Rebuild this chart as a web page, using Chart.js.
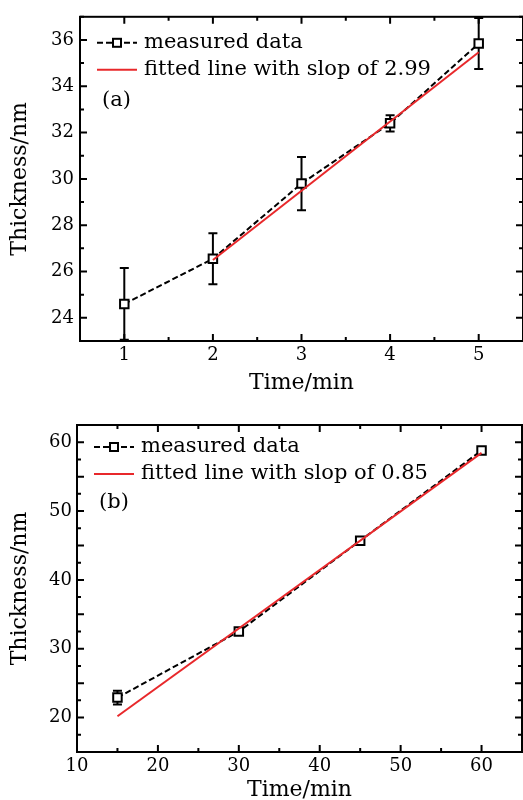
<!DOCTYPE html>
<html>
<head>
<meta charset="utf-8">
<script src="https://cdn.jsdelivr.net/npm/chart.js@4/dist/chart.umd.min.js"></script>
<style>
  html, body { margin: 0; padding: 0; background: #fff; overflow: hidden; }
  canvas { display: block; }
</style>
</head>
<body>
<canvas id="chartA" width="523" height="400"></canvas>
<canvas id="chartB" width="523" height="400"></canvas>
<script>
// panel (a)
const timeA = [1, 2, 3, 4, 5];
const thickA = [24.6, 26.55, 29.8, 32.4, 35.85];
const errA = [1.55, 1.1, 1.15, 0.35, 1.1];
const fitTimeA = [2, 5];
const fitThickA = [26.5, 35.47];
const xTicksA = [1, 2, 3, 4, 5];
const xMinorA = [0.5, 1.5, 2.5, 3.5, 4.5, 5.5];
const yTicksA = [24, 26, 28, 30, 32, 34, 36];
const yMinorA = [23, 25, 27, 29, 31, 33, 35, 37];

// panel (b)
const timeB = [15, 30, 45, 60];
const thickB = [22.9, 32.5, 45.7, 58.8];
const errB = [1.0, 0.5, 0.4, 0.4];
const fitTimeB = [15, 60];
const fitThickB = [20.2, 58.45];
const xTicksB = [10, 20, 30, 40, 50, 60];
const xMinorB = [15, 25, 35, 45, 55, 65];
const yTicksB = [15, 20, 25, 30, 35, 40, 45, 50, 55, 60];
const yMinorB = [17.5, 22.5, 27.5, 32.5, 37.5, 42.5, 47.5, 52.5, 57.5, 62.5];

const FONT = "'DejaVu Serif', serif";
const RED = "#e8282b";

// error bars drawn under the markers, clipped to the plot
const errorBars = {
  id: "errorBars",
  beforeDatasetsDraw(chart, args, opts) {
    const { ctx, chartArea, scales } = chart;
    const ds = chart.data.datasets[opts.dataset];
    ctx.save();
    ctx.beginPath();
    ctx.rect(chartArea.left, chartArea.top, chartArea.width, chartArea.height);
    ctx.clip();
    ctx.strokeStyle = "#000";
    ctx.lineWidth = 2;
    ds.data.forEach((p, i) => {
      const e = opts.errors[i];
      const x = scales.x.getPixelForValue(p.x);
      const y1 = scales.y.getPixelForValue(p.y - e);
      const y2 = scales.y.getPixelForValue(p.y + e);
      ctx.beginPath();
      ctx.moveTo(x, y1); ctx.lineTo(x, y2);
      ctx.moveTo(x - 4.5, y1); ctx.lineTo(x + 4.5, y1);
      ctx.moveTo(x - 4.5, y2); ctx.lineTo(x + 4.5, y2);
      ctx.stroke();
    });
    ctx.restore();
  }
};

// box frame with inward ticks on all four sides
const frameTicks = {
  id: "frameTicks",
  afterDraw(chart, args, opts) {
    const { ctx, chartArea: a, scales } = chart;
    ctx.save();
    ctx.strokeStyle = "#000";
    ctx.lineWidth = 2;
    ctx.strokeRect(a.left, a.top, a.width, a.height);
    const tick = (vals, len, horiz) => {
      vals.forEach((v) => {
        ctx.beginPath();
        if (horiz) {
          const x = scales.x.getPixelForValue(v);
          ctx.moveTo(x, a.bottom); ctx.lineTo(x, a.bottom - len);
          ctx.moveTo(x, a.top); ctx.lineTo(x, a.top + len);
        } else {
          const y = scales.y.getPixelForValue(v);
          ctx.moveTo(a.left, y); ctx.lineTo(a.left + len, y);
          ctx.moveTo(a.right, y); ctx.lineTo(a.right - len, y);
        }
        ctx.stroke();
      });
    };
    tick(opts.xMajor, 7, true);
    tick(opts.xMinor, 4, true);
    tick(opts.yMajor, 7, false);
    tick(opts.yMinor, 4, false);
    ctx.restore();
  }
};

// legend and panel letter inside the plot
const innerLegend = {
  id: "innerLegend",
  afterDraw(chart, args, opts) {
    const { ctx, chartArea: a } = chart;
    const x0 = a.left + 17, x1 = a.left + 57;
    const r1 = a.top + opts.row1, r2 = a.top + opts.row2;
    ctx.save();
    ctx.strokeStyle = "#000";
    ctx.lineWidth = 2;
    ctx.setLineDash([6, 3]);
    ctx.beginPath(); ctx.moveTo(x0, r1); ctx.lineTo(x1, r1); ctx.stroke();
    ctx.setLineDash([]);
    ctx.fillStyle = "#fff";
    ctx.fillRect(x0 + 16, r1 - 4, 8, 8);
    ctx.strokeRect(x0 + 16, r1 - 4, 8, 8);
    ctx.strokeStyle = RED;
    ctx.beginPath(); ctx.moveTo(x0, r2); ctx.lineTo(x1, r2); ctx.stroke();
    ctx.fillStyle = "#000";
    ctx.font = "21px " + FONT;
    ctx.textBaseline = "middle";
    ctx.fillText("measured data", a.left + 64, r1);
    ctx.fillText(opts.fitLabel, a.left + 64, r2);
    ctx.fillText(opts.panel, a.left + 22, a.top + opts.row3);
    ctx.restore();
  }
};

function makeChart(id, d) {
  new Chart(document.getElementById(id), {
    type: "line",
    data: {
      datasets: [
        {
          label: "fitted line",
          data: d.fitX.map((x, i) => ({ x, y: d.fitY[i] })),
          borderColor: RED,
          borderWidth: 2,
          pointRadius: 0,
          order: 0
        },
        {
          label: "measured data",
          data: d.x.map((x, i) => ({ x, y: d.y[i] })),
          borderColor: "#000",
          borderWidth: 2,
          borderDash: [6, 3],
          pointStyle: "rect",
          pointRadius: 6,
          pointBorderWidth: 2,
          pointBackgroundColor: "#fff",
          pointBorderColor: "#000",
          order: 1
        }
      ]
    },
    options: {
      responsive: false,
      animation: false,
      devicePixelRatio: 1,
      layout: { autoPadding: false, padding: { top: d.padTop, right: d.padRight, left: 0, bottom: 0 } },
      plugins: {
        legend: { display: false },
        tooltip: { enabled: false },
        errorBars: { dataset: 1, errors: d.err },
        frameTicks: { xMajor: d.xTicks, xMinor: d.xMinor, yMajor: d.yTicks, yMinor: d.yMinor },
        innerLegend: d.legend
      },
      scales: {
        x: {
          type: "linear",
          min: d.xMin, max: d.xMax,
          afterBuildTicks: (s) => { s.ticks = d.xTicks.map((v) => ({ value: v })); },
          afterFit: (s) => { s.height = d.xAxisH; },
          grid: { display: false, drawTicks: false, tickLength: 0 },
          border: { display: false },
          ticks: { color: "#000", padding: 4, maxRotation: 0, font: { family: FONT, size: 18 } },
          title: { display: true, text: "Time/min", color: "#000", padding: d.xTitlePad,
                   font: { family: FONT, size: 22, lineHeight: 1.0 } }
        },
        y: {
          min: d.yMin, max: d.yMax,
          afterBuildTicks: (s) => { s.ticks = d.yTicks.map((v) => ({ value: v })); },
          afterFit: (s) => { s.width = d.yAxisW; },
          grid: { display: false, drawTicks: false, tickLength: 0 },
          border: { display: false },
          ticks: { color: "#000", padding: d.yTickPad, font: { family: FONT, size: 18 },
                   callback: d.yLabel },
          title: { display: true, text: "Thickness/nm", color: "#000", padding: { top: 9, bottom: 0 },
                   font: { family: FONT, size: 22, lineHeight: 1.0 } }
        }
      }
    },
    plugins: [errorBars, frameTicks, innerLegend]
  });
}

makeChart("chartA", {
  x: timeA, y: thickA, err: errA, fitX: fitTimeA, fitY: fitThickA,
  xMin: 0.5, xMax: 5.5, yMin: 23, yMax: 37,
  xTicks: xTicksA, xMinor: xMinorA, yTicks: yTicksA, yMinor: yMinorA,
  yLabel: (v) => v,
  padTop: 14, padRight: -1, xAxisH: 59, yAxisW: 80, yTickPad: 6,
  xTitlePad: { top: 0, bottom: 6 },
  legend: { row1: 26, row2: 53, row3: 84, fitLabel: "fitted line with slop of 2.99", panel: "(a)" }
});

makeChart("chartB", {
  x: timeB, y: thickB, err: errB, fitX: fitTimeB, fitY: fitThickB,
  xMin: 10, xMax: 65, yMin: 15, yMax: 62.5,
  xTicks: xTicksB, xMinor: xMinorB, yTicks: yTicksB, yMinor: yMinorB,
  yLabel: (v) => (v % 10 === 0 ? v : ""),
  padTop: 25, padRight: 1, xAxisH: 48, yAxisW: 77, yTickPad: 5,
  xTitlePad: { top: 0, bottom: -1 },
  legend: { row1: 22, row2: 49, row3: 78, fitLabel: "fitted line with slop of 0.85", panel: "(b)" }
});
</script>
</body>
</html>
